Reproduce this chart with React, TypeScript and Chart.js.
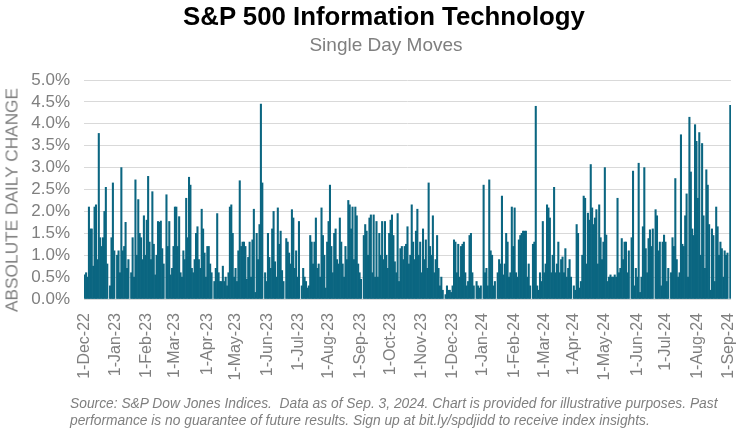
import React, { useEffect, useRef } from "react";
import { Chart, registerables } from "chart.js";

Chart.register(...registerables);

// Month tick labels (first weekday of each month)
const monthLabels = [
  "1-Dec-22", "1-Jan-23", "1-Feb-23", "1-Mar-23", "1-Apr-23", "1-May-23",
  "1-Jun-23", "1-Jul-23", "1-Aug-23", "1-Sep-23", "1-Oct-23", "1-Nov-23",
  "1-Dec-23", "1-Jan-24", "1-Feb-24", "1-Mar-24", "1-Apr-24", "1-May-24",
  "1-Jun-24", "1-Jul-24", "1-Aug-24", "1-Sep-24",
];

// Absolute daily change (%) per weekday, null = market holiday
const dec22 = [0.55, 0.6, 0.5, 2.1, 1.6, 1.6, 0.75, 2.1, 2.15, 0.9, 3.78, 1.4, 1.2, 1.4, 2.0, 2.55, 0.8, null, 0.3, 1.4, 2.65, 1.1];
const jan23 = [null, 1.0, 1.1, 0.6, 3.0, 1.1, 1.2, 1.75, 0.7, 0.9, null, 0.6, 1.4, 0.5, 2.72, 1.0, 2.27, 1.5, 1.4, 0.9, 1.9, 1.0];
const feb23 = [1.8, 2.8, 1.3, 0.9, 2.45, 1.25, 0.55, 1.0, 1.77, 1.75, 1.78, 1.15, 0.8, null, 2.38, 1.2, 1.77, 0.55, 0.7, 1.2];
const mar23 = [2.1, 2.1, 1.2, 1.88, 0.6, 0.5, 1.1, 0.9, 2.3, 1.4, 2.78, 2.6, 0.7, 0.6, 0.9, 1.5, 1.65, 0.9, 0.7, 2.05, 1.6, 1.05, 0.5];
const apr23 = [1.2, 1.2, 0.8, 0.6, null, 0.4, 0.7, 1.95, 0.6, 0.4, 0.4, 0.75, 0.4, 0.5, 0.3, 0.6, 2.1, 2.15, 1.5, 0.5];
const may23 = [0.7, 0.4, 1.1, 2.7, 1.2, 1.3, 1.3, 1.2, 0.45, 0.95, 1.3, 0.5, 1.35, 2.05, 0.15, 1.5, 0.9, 1.7, 4.45, 2.65, null, 0.6, 0.4];
const jun23 = [1.5, 0.95, 0.7, 1.6, 2.0, 0.85, 0.5, 2.08, 1.25, 1.55, 0.65, 0.4, null, 1.38, 1.3, 1.05, 0.8, 2.04, 1.85, 0.7, 1.1, 0.5];
const jul23 = [1.77, null, 0.3, 0.7, 0.5, 0.4, 0.25, 0.3, 1.45, 1.3, 0.8, 1.3, 1.85, 0.7, 0.8, 0.5, 2.08, 1.45, 1.0, 0.25, 1.3];
const aug23 = [1.77, 2.6, 1.2, 0.6, 1.5, 1.6, 0.9, 0.8, 1.85, 1.3, 0.8, 0.5, 1.2, 0.9, 2.25, 2.15, 1.6, 2.1, 0.9, 2.1, 1.9, 0.8, 0.6];
const sep23 = [0.45, null, 1.45, 1.7, 1.55, 1.0, 1.85, 1.92, 0.6, 1.92, 0.5, 1.77, 0.5, 1.5, 1.0, 1.77, 0.9, 1.77, 1.0, 0.7, 1.5];
const oct23 = [1.8, 1.92, 1.45, 0.85, 0.6, 1.95, 0.4, 1.15, 1.2, 0.9, 1.2, 1.25, 1.65, 0.8, 1.0, 2.15, 1.3, 0.9, 1.55, 2.05, 1.0, 1.3];
const nov23 = [0.6, 1.6, 0.9, 1.35, 0.7, 2.65, 1.2, 1.0, 1.9, 0.6, 0.9, 1.45, 0.7, 0.3, 0.5, 0.2, null, 0.1, 0.3, 0.2, 0.2, 0.15];
const dec23 = [0.3, 1.35, 1.3, 0.6, 1.25, 0.5, 1.2, 1.25, 1.3, 0.6, 0.3, 0.4, 1.45, 1.5, 0.6, 0.3, null, 0.4, 0.3, 0.25, 0.3];
const jan24 = [null, 2.6, 0.6, 0.7, 0.3, 2.72, 1.1, 1.0, 0.3, 0.4, null, 0.6, 0.9, 0.8, 2.35, 0.55, 0.8, 1.5, 1.3, 0.5, 0.6, 2.1, 1.2];
const feb24 = [2.08, 0.6, 0.5, 1.35, 1.45, 1.5, 1.55, 1.55, 1.55, 0.5, 0.8, 0.3, null, 1.25, 1.3, 4.4, 0.3, 0.2, 0.6, 0.4, 1.77];
const mar24 = [0.6, 0.8, 2.15, 2.08, 1.85, 0.6, 1.0, 2.55, 0.6, 0.8, 1.3, 0.6, 0.9, 0.96, 0.6, 1.15, 0.5, 0.7, 0.9, 0.5, null];
const apr24 = [0.3, 0.2, 1.7, 1.5, 0.25, 0.4, 1.0, 2.35, 2.3, 0.8, 1.96, 1.8, 3.07, 2.08, 1.7, 1.85, 2.04, 0.8, 2.15, 1.4, 0.9, 1.3];
const may24 = [3.0, 1.46, 0.4, 0.5, 0.55, 0.5, 0.5, 0.55, 0.5, 2.3, 0.6, 0.7, 1.38, 0.9, 1.3, 1.3, 0.6, 1.1, null, 1.4, 2.92, 0.3, 0.7];
const jun24 = [0.5, 3.1, 0.15, 0.5, 1.65, 3.0, 1.15, 0.6, 1.38, 1.58, 1.2, 1.6, null, 2.04, 1.9, 1.1, 1.3, 0.3, 1.3, 1.46];
const jul24 = [1.3, 0.4, 0.7, null, 0.6, 1.4, 1.2, 2.75, 0.9, 0.5, 0.6, 3.75, 1.25, 1.2, 1.9, 2.4, 0.5, 4.15, 2.9, 1.6, 1.45, 3.98, 3.6];
const aug24 = [2.3, 3.8, 1.0, 3.55, 1.9, 0.7, 2.95, 2.6, 1.7, 0.2, 1.6, 1.45, 0.4, 2.1, 1.65, 1.0, 1.3, 1.15, 0.5, 1.1, 1.0, 1.05];
const sep24 = [null, 4.42];

const monthSeries = [
  dec22, jan23, feb23, mar23, apr23, may23, jun23, jul23, aug23, sep23, oct23, nov23,
  dec23, jan24, feb24, mar24, apr24, may24, jun24, jul24, aug24, sep24,
];

const FONT = '"Liberation Sans", Arial, sans-serif';
const GRAY = "#7f7f7f";
const BAR = "#0b6681";

export default function App() {
  const canvasRef = useRef<HTMLCanvasElement | null>(null);

  useEffect(() => {
    document.body.style.margin = "0";
    const values: (number | null)[] = [];
    const labels: string[] = [];
    monthSeries.forEach((m, i) => {
      m.forEach((v, j) => {
        values.push(v);
        labels.push(j === 0 ? monthLabels[i] : "");
      });
    });

    const chart = new Chart(canvasRef.current as HTMLCanvasElement, {
      type: "bar",
      data: {
        labels,
        datasets: [
          {
            data: values,
            backgroundColor: BAR,
            borderWidth: 0,
            barPercentage: 1,
            categoryPercentage: 1,
          },
        ],
      },
      options: {
        animation: false,
        responsive: true,
        maintainAspectRatio: false,
        layout: { padding: { top: 80, right: 10, left: 0, bottom: 0 } },
        plugins: {
          legend: { display: false },
          tooltip: { enabled: false },
          title: { display: false },
        },
        scales: {
          x: {
            type: "category",
            grid: { display: false },
            border: { display: false },
            afterFit: (scale: any) => {
              scale.height = 139;
              scale.paddingLeft = 0;
              scale.paddingRight = 0;
            },
            ticks: {
              autoSkip: false,
              minRotation: 90,
              maxRotation: 90,
              padding: 6,
              color: GRAY,
              font: { family: FONT, size: 16 },
            },
          },
          y: {
            min: 0,
            max: 5,
            afterFit: (scale: any) => {
              scale.width = 84;
            },
            grid: { color: "#d9d9d9", lineWidth: 1, drawTicks: false },
            border: { display: false },
            ticks: {
              stepSize: 0.5,
              autoSkip: false,
              padding: 14,
              color: GRAY,
              font: { family: FONT, size: 17 },
              callback: (v: any) => Number(v).toFixed(1) + "%",
            },
          },
        },
      },
    });
    return () => chart.destroy();
  }, []);

  return (
    <div style={{ position: "relative", width: 741, height: 438, fontFamily: FONT, overflow: "hidden" }}>
      <canvas ref={canvasRef} style={{ position: "absolute", left: 0, top: 0, width: 741, height: 438 }} />
      <div style={{ position: "absolute", left: 0, top: 0, width: 768, textAlign: "center", fontWeight: "bold", fontSize: 25.8, lineHeight: "32px", color: "#000" }}>
        S&amp;P 500 Information Technology
      </div>
      <div style={{ position: "absolute", left: 0, top: 33, width: 772, textAlign: "center", fontSize: 19, lineHeight: "24px", color: GRAY }}>
        Single Day Moves
      </div>
      <div style={{ position: "absolute", left: 12, top: 200, transform: "translate(-50%, -50%) rotate(-90deg)", whiteSpace: "nowrap", fontSize: 17.3, color: GRAY }}>
        ABSOLUTE DAILY CHANGE
      </div>
      <div style={{ position: "absolute", left: 70, top: 395, width: 680, whiteSpace: "nowrap", fontStyle: "italic", fontSize: 13.8, lineHeight: "17px", color: "#7f7f7f" }}>
        Source: S&amp;P Dow Jones Indices.&nbsp; Data as of Sep. 3, 2024. Chart is provided for illustrative purposes. Past
        <br />
        performance is no guarantee of future results. Sign up at bit.ly/spdjidd to receive index insights.
      </div>
    </div>
  );
}
